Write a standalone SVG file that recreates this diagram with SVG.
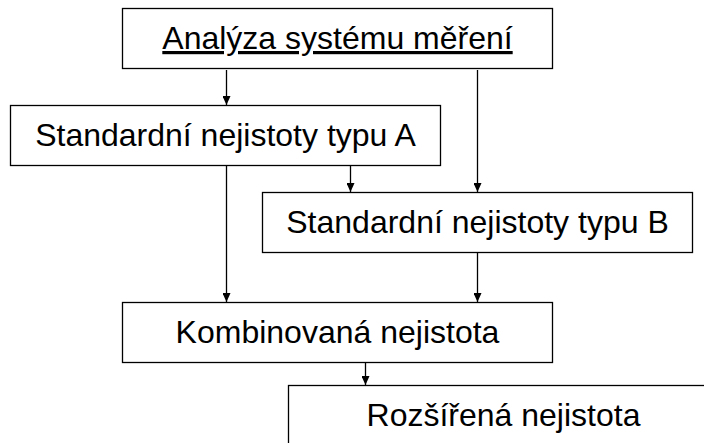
<svg xmlns="http://www.w3.org/2000/svg" width="704" height="443" viewBox="0 0 704 443">
<defs>
<style>
.box{fill:#fff;stroke:#000;stroke-width:1.3}
.lbl{font-family:"Liberation Sans",Arial,sans-serif;font-size:32px;fill:#000;text-anchor:middle}
.con{stroke:#000;stroke-width:1.3;fill:none}
</style>
<marker id="ah" markerUnits="userSpaceOnUse" markerWidth="8" markerHeight="9" refX="4" refY="9" orient="auto-start-reverse" viewBox="0 0 8 9">
<path d="M0,0 L8,0 L4,9 Z" fill="#000" transform="rotate(-90 4 4.5)"/>
</marker>
<marker id="arr" markerUnits="userSpaceOnUse" markerWidth="9" markerHeight="8" refX="9" refY="4" orient="auto" viewBox="0 0 9 8">
<path d="M0,0 L9,4 L0,8 Z" fill="#000"/>
</marker>
</defs>
<rect width="704" height="443" fill="#fff"/>
<g id="connectors">
<line class="con" x1="226.5" y1="70" x2="226.5" y2="105" marker-end="url(#arr)"/>
<line class="con" x1="477.5" y1="70" x2="477.5" y2="192" marker-end="url(#arr)"/>
<line class="con" x1="350.5" y1="166" x2="350.5" y2="192" marker-end="url(#arr)"/>
<line class="con" x1="226.5" y1="166" x2="226.5" y2="302" marker-end="url(#arr)"/>
<line class="con" x1="477.5" y1="253" x2="477.5" y2="302" marker-end="url(#arr)"/>
<line class="con" x1="365.5" y1="363" x2="365.5" y2="385" marker-end="url(#arr)"/>
</g>
<g id="analyza">
<rect class="box" x="122.5" y="8.5" width="430" height="60"/>
<text class="lbl" x="337.5" y="49" text-decoration="underline">Analýza systému měření</text>
</g>
<g id="typA">
<rect class="box" x="10.5" y="105.5" width="430" height="60"/>
<text class="lbl" x="225.5" y="146">Standardní nejistoty typu A</text>
</g>
<g id="typB">
<rect class="box" x="262.5" y="192.5" width="430" height="60"/>
<text class="lbl" x="477.5" y="233">Standardní nejistoty typu B</text>
</g>
<g id="kombinovana">
<rect class="box" x="122.5" y="302.5" width="430" height="60"/>
<text class="lbl" x="337.5" y="343">Kombinovaná nejistota</text>
</g>
<g id="rozsirena">
<rect class="box" x="288.5" y="385.5" width="430" height="60"/>
<text class="lbl" x="503.5" y="426">Rozšířená nejistota</text>
</g>
</svg>
